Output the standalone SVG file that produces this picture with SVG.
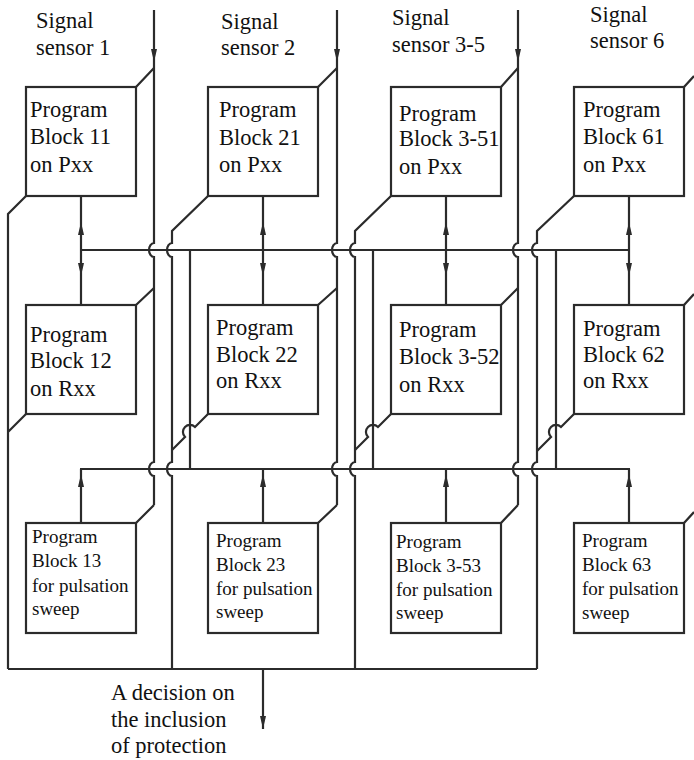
<svg xmlns="http://www.w3.org/2000/svg" xmlns:xlink="http://www.w3.org/1999/xlink" width="694" height="760" viewBox="0 0 694 760" font-family="'Liberation Serif', 'Times New Roman', 'DejaVu Serif', serif">
<style>
.ln{fill:none;stroke:#2b2b2b;stroke-width:2.2}
.box{fill:#fff;stroke:#2b2b2b;stroke-width:2.2}
text{font-family:'Liberation Serif','Times New Roman','DejaVu Serif',serif;fill:#111}
.t{font-size:22.5px}
.ts{font-size:19px}
.ah{fill:#2b2b2b}
</style>
<defs>
<path id="ah" class="ah" d="M0,0 L-3,-13 L3,-13 Z"/>
</defs>
<rect width="694" height="760" fill="#fff"/>

<g id="connectors">
<path class="ln" d="M154,10 V243 A5,7 0 0 0 154,257 V462 A5,7 0 0 0 154,476 V505"/>
<path class="ln" d="M337,10 V243 A5,7 0 0 0 337,257 V462 A5,7 0 0 0 337,476 V505"/>
<path class="ln" d="M518,10 V243 A5,7 0 0 0 518,257 V462 A5,7 0 0 0 518,476 V505"/>
<use xlink:href="#ah" transform="translate(154,62)"/>
<use xlink:href="#ah" transform="translate(337,62)"/>
<use xlink:href="#ah" transform="translate(518,62)"/>
<path class="ln" d="M154,68 L136,87 M154,288 L136,305 M154,505 L136,523"/>
<path class="ln" d="M337,68 L318,87 M337,288 L318,305 M337,505 L318,523"/>
<path class="ln" d="M518,68 L501,87 M518,288 L501,305 M518,505 L501,523"/>
<path class="ln" d="M684,87 L694,76 M684,305 L694,294 M684,523 L694,512"/>
<path class="ln" d="M26,196 L8,214 V669 M26,414 L8,432"/>
<path class="ln" d="M208,196 L172,231 V243 A5,7 0 0 0 172,257 V462 A5,7 0 0 0 172,476 V669"/>
<path class="ln" d="M208,414 L195,427 A7,7 0 0 0 185,437 L172,450"/>
<path class="ln" d="M391,196 L355,231 V243 A5,7 0 0 0 355,257 V462 A5,7 0 0 0 355,476 V669"/>
<path class="ln" d="M391,414 L378,427 A7,7 0 0 0 368,437 L355,450"/>
<path class="ln" d="M574,196 L537,231 V243 A5,7 0 0 0 537,257 V462 A5,7 0 0 0 537,476 V669"/>
<path class="ln" d="M574,414 L561,427 A7,7 0 0 0 551,437 L537,451"/>
<path class="ln" d="M80,250 H630 M80,469 H630"/>
<path class="ln" d="M190,250 V469 M373,250 V469 M556,250 V469"/>
<path class="ln" d="M8,669 H537"/>
<path class="ln" d="M81,196 V305 M263,196 V305 M446,196 V305 M629,196 V305"/>
<path class="ln" d="M81,469 V523 M263,469 V523 M446,469 V523 M629,469 V523"/>
<use xlink:href="#ah" transform="translate(81,222) rotate(180)"/>
<use xlink:href="#ah" transform="translate(263,222) rotate(180)"/>
<use xlink:href="#ah" transform="translate(446,222) rotate(180)"/>
<use xlink:href="#ah" transform="translate(629,222) rotate(180)"/>
<use xlink:href="#ah" transform="translate(81,276)"/>
<use xlink:href="#ah" transform="translate(263,276)"/>
<use xlink:href="#ah" transform="translate(446,276)"/>
<use xlink:href="#ah" transform="translate(629,276)"/>
<use xlink:href="#ah" transform="translate(81,474) rotate(180)"/>
<use xlink:href="#ah" transform="translate(263,474) rotate(180)"/>
<use xlink:href="#ah" transform="translate(446,474) rotate(180)"/>
<use xlink:href="#ah" transform="translate(629,474) rotate(180)"/>
<path class="ln" d="M263,669 V729"/>
<use xlink:href="#ah" transform="translate(263,729)"/>
</g>

<g id="sensor1"><text class="t" x="36" y="28">Signal</text><text class="t" x="36" y="55">sensor 1</text></g>
<g id="sensor2"><text class="t" x="221" y="29">Signal</text><text class="t" x="221" y="55">sensor 2</text></g>
<g id="sensor35"><text class="t" x="392" y="25">Signal</text><text class="t" x="392" y="52">sensor 3-5</text></g>
<g id="sensor6"><text class="t" x="590" y="22">Signal</text><text class="t" x="590" y="48">sensor 6</text></g>

<g id="block11"><rect class="box" x="26" y="87" width="110" height="109"/>
<text class="t" x="30" y="117">Program</text><text class="t" x="30" y="144">Block 11</text><text class="t" x="30" y="172">on Pxx</text></g>
<g id="block21"><rect class="box" x="208" y="87" width="110" height="109"/>
<text class="t" x="219" y="117">Program</text><text class="t" x="219" y="145">Block 21</text><text class="t" x="219" y="172">on Pxx</text></g>
<g id="block351"><rect class="box" x="391" y="87" width="110" height="109"/>
<text class="t" x="399" y="121">Program</text><text class="t" x="399" y="146">Block 3-51</text><text class="t" x="399" y="174">on Pxx</text></g>
<g id="block61"><rect class="box" x="574" y="87" width="110" height="109"/>
<text class="t" x="583" y="117">Program</text><text class="t" x="583" y="144">Block 61</text><text class="t" x="583" y="172">on Pxx</text></g>

<g id="block12"><rect class="box" x="26" y="305" width="110" height="109"/>
<text class="t" x="30" y="342">Program</text><text class="t" x="30" y="368">Block 12</text><text class="t" x="30" y="396">on Rxx</text></g>
<g id="block22"><rect class="box" x="208" y="305" width="110" height="109"/>
<text class="t" x="216" y="335">Program</text><text class="t" x="216" y="362">Block 22</text><text class="t" x="216" y="388">on Rxx</text></g>
<g id="block352"><rect class="box" x="391" y="305" width="110" height="109"/>
<text class="t" x="399" y="337">Program</text><text class="t" x="399" y="364">Block 3-52</text><text class="t" x="399" y="392">on Rxx</text></g>
<g id="block62"><rect class="box" x="574" y="305" width="110" height="109"/>
<text class="t" x="583" y="336">Program</text><text class="t" x="583" y="362">Block 62</text><text class="t" x="583" y="388">on Rxx</text></g>

<g id="block13"><rect class="box" x="26" y="523" width="110" height="110"/>
<text class="ts" x="32" y="543">Program</text><text class="ts" x="32" y="567">Block 13</text><text class="ts" x="32" y="592">for pulsation</text><text class="ts" x="32" y="615">sweep</text></g>
<g id="block23"><rect class="box" x="208" y="523" width="110" height="110"/>
<text class="ts" x="216" y="547">Program</text><text class="ts" x="216" y="571">Block 23</text><text class="ts" x="216" y="595">for pulsation</text><text class="ts" x="216" y="618">sweep</text></g>
<g id="block353"><rect class="box" x="391" y="523" width="110" height="110"/>
<text class="ts" x="396" y="548">Program</text><text class="ts" x="396" y="572">Block 3-53</text><text class="ts" x="396" y="596">for pulsation</text><text class="ts" x="396" y="619">sweep</text></g>
<g id="block63"><rect class="box" x="574" y="523" width="110" height="110"/>
<text class="ts" x="582" y="547">Program</text><text class="ts" x="582" y="571">Block 63</text><text class="ts" x="582" y="595">for pulsation</text><text class="ts" x="582" y="619">sweep</text></g>

<g id="decision"><text class="t" x="111" y="700">A decision on</text><text class="t" x="111" y="727">the inclusion</text><text class="t" x="111" y="753">of protection</text></g>
</svg>
